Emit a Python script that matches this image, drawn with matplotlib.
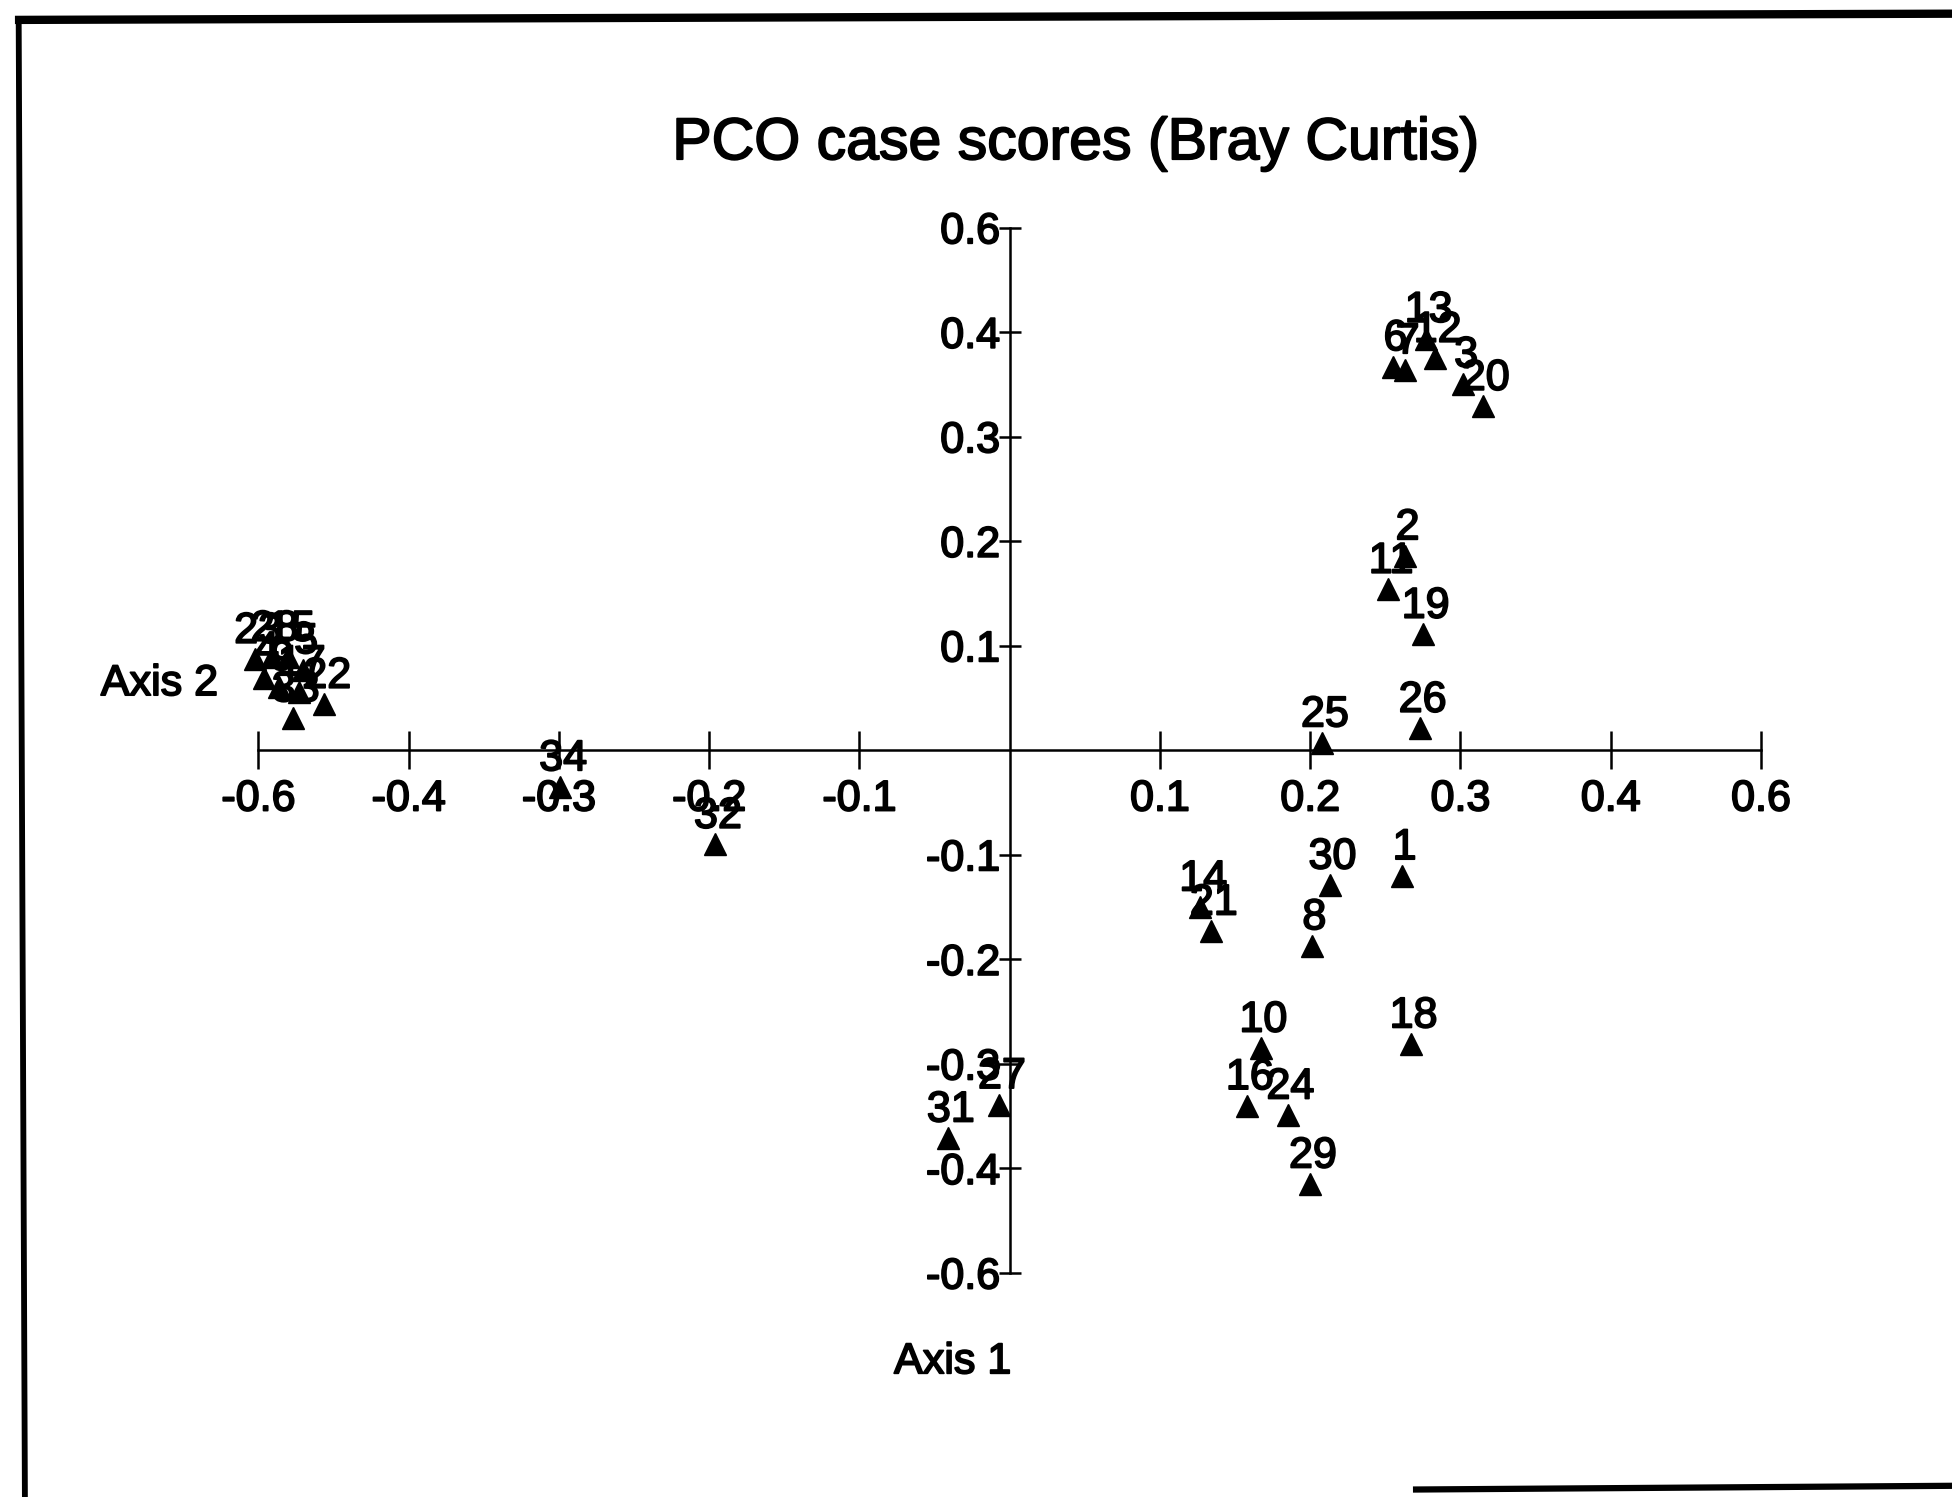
"""PCO case scores (Bray Curtis) - ordination plot with axes crossing at the origin."""
import matplotlib
matplotlib.use("Agg")
import matplotlib.pyplot as plt
import matplotlib.patheffects as pe
from matplotlib.lines import Line2D

plt.rcParams["font.family"] = ["Liberation Sans", "DejaVu Sans"]

# case scores (in tick units of the drawn axes)
CASES = [str(i) for i in range(1, 35)]
AXIS1 = [0.261, 0.263, 0.302, -0.496, -0.470, 0.255, 0.263, 0.201, -0.486, 0.167,
         0.252, 0.283, 0.277, 0.127, -0.480, 0.158, -0.473, 0.267, 0.275, 0.315,
         0.134, -0.456, -0.502, 0.185, 0.208, 0.273, -0.007, -0.491, 0.200, 0.213,
         -0.041, -0.196, -0.477, -0.299]
AXIS2 = [-0.120, 0.186, 0.351, 0.069, 0.077, 0.367, 0.364, -0.187, 0.061, -0.285,
         0.154, 0.375, 0.394, -0.150, 0.089, -0.340, 0.056, -0.281, 0.111, 0.329,
         -0.173, 0.044, 0.087, -0.349, 0.007, 0.021, -0.339, 0.089, -0.415, -0.129,
         -0.371, -0.090, 0.031, -0.035]

# tick positions and the (odd) labels the original software printed
TICKS = [-0.5, -0.4, -0.3, -0.2, -0.1, 0.1, 0.2, 0.3, 0.4, 0.5]
TICK_LABELS = ["-0.6", "-0.4", "-0.3", "-0.2", "-0.1", "0.1", "0.2", "0.3", "0.4", "0.6"]

# the source is a photocopy: thicken glyphs a little
INK = [pe.withStroke(linewidth=1.3, foreground="black")]

fig = plt.figure(figsize=(19.52, 14.97), dpi=100)
ax = fig.add_axes([0, 0, 1, 1])
ax.set_xlim(-0.6719, 0.6272)
ax.set_ylim(-0.7143, 0.7179)

for side in ("top", "right"):
    ax.spines[side].set_visible(False)
for side in ("left", "bottom"):
    ax.spines[side].set_position(("data", 0))
    ax.spines[side].set_bounds(-0.5, 0.5)
    ax.spines[side].set_linewidth(1.8)

ax.set_xticks(TICKS, TICK_LABELS)
ax.set_yticks(TICKS, TICK_LABELS)
ax.tick_params(axis="x", direction="inout", length=28, width=1.8, pad=7, labelsize=31)
ax.tick_params(axis="y", direction="inout", length=16, width=1.8, pad=-1, labelsize=31)
for t in ax.get_xticklabels() + ax.get_yticklabels():
    t.set_path_effects(INK)

ax.plot(AXIS1, AXIS2, "^", ms=15.5, color="black", ls="none", zorder=3)
for lbl, x, y in zip(CASES, AXIS1, AXIS2):
    ax.annotate(lbl, (x, y), xytext=(2, 12), textcoords="offset points",
                ha="center", va="baseline", fontsize=31, color="black",
                path_effects=INK)

fig.text(0.551, 0.904, "PCO case scores (Bray Curtis)", ha="center", va="center",
         fontsize=42.5, path_effects=INK)
fig.text(0.1116, 0.543, "Axis 2", ha="right", va="center", fontsize=31, path_effects=INK)
fig.text(0.488, 0.090, "Axis 1", ha="center", va="center", fontsize=31, path_effects=INK)

# scanned page frame
H, W = 1203, 1568
for (x0, y0), (x1, y1), lw in [((12, 16), (W, 11), 6.0),
                               ((15, 14), (20, H), 4.2),
                               ((1135, 1197), (W, 1194), 4.5)]:
    fig.add_artist(Line2D([x0 / W, x1 / W], [1 - y0 / H, 1 - y1 / H],
                          transform=fig.transFigure, color="black", lw=lw,
                          solid_capstyle="butt"))

fig.savefig("out.png", dpi=100, facecolor="white")
